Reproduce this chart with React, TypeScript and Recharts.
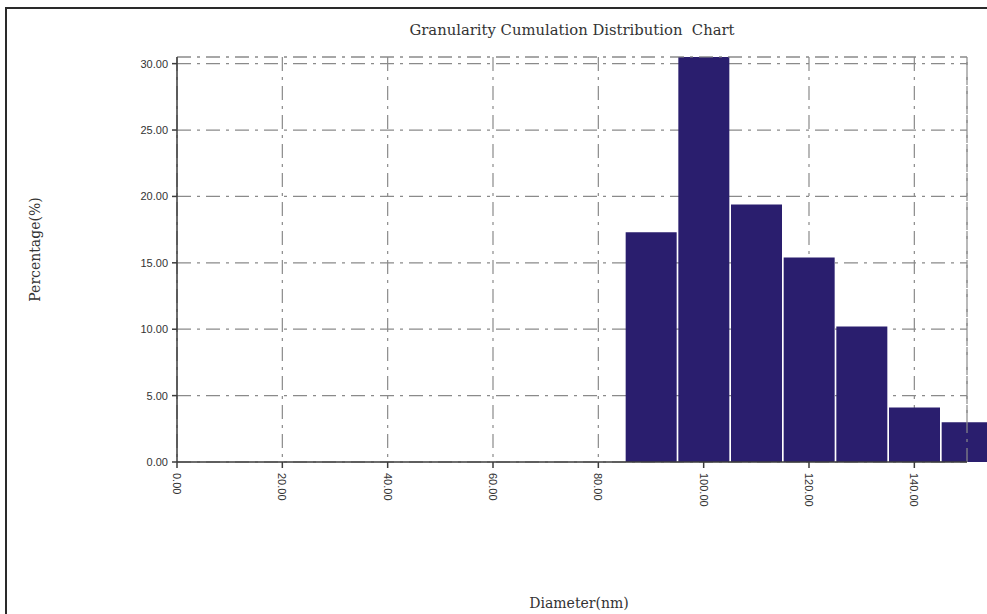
import React from "react";
import {
  BarChart,
  Bar,
  XAxis,
  YAxis,
  CartesianGrid,
  ReferenceLine,
} from "recharts";

// diameter bin centres (nm) and percentage in each bin
const diameters = [90, 100, 110, 120, 130, 140, 150];
const percentages = [17.3, 30.5, 19.4, 15.4, 10.2, 4.1, 3.0];

const xTicks = [0, 20, 40, 60, 80, 100, 120, 140];
const yTicks = [0, 5, 10, 15, 20, 25, 30];

const data = diameters.map((d, i) => ({ diameter: d, percent: percentages[i] }));

const GRID = "#8a8a8a";
const DASH = "14 6 3 6";
const AXIS = "#3c3c3c";
const tickFont = { fontFamily: "Liberation Sans", fontSize: 11, fill: "#333" };

function XTick(props: any) {
  const { x, y, payload } = props;
  return (
    <g transform={`translate(${x},${y})`}>
      <text
        transform="rotate(90)"
        x={5}
        y={0}
        dy="0.35em"
        textAnchor="start"
        {...tickFont}
      >
        {Number(payload.value).toFixed(2)}
      </text>
    </g>
  );
}

function YLabel(props: any) {
  const { viewBox } = props;
  const cx = viewBox.x + 35;
  const cy = viewBox.y + viewBox.height / 2 - 10;
  return (
    <text
      x={cx}
      y={cy}
      transform={`rotate(-90, ${cx}, ${cy})`}
      textAnchor="middle"
      dominantBaseline="central"
      fontFamily="DejaVu Serif"
      fontSize={14}
      fill="#333"
    >
      Percentage(%)
    </text>
  );
}

export default function App() {
  return (
    <div
      style={{
        position: "absolute",
        left: 0,
        top: 0,
        width: 987,
        height: 614,
        overflow: "hidden",
        background: "#fff",
      }}
    >
      {/* outer frame, runs off the right/bottom edge */}
      <div
        style={{
          position: "absolute",
          left: 5,
          top: 7,
          width: 1100,
          height: 700,
          border: "2px solid #2a2a2a",
        }}
      />
      <div
        style={{
          position: "absolute",
          left: 177,
          width: 790,
          top: 21,
          textAlign: "center",
          fontFamily: "DejaVu Serif",
          fontSize: 14.8,
          color: "#333",
          whiteSpace: "pre",
        }}
      >
        Granularity Cumulation Distribution  Chart
      </div>
      <div style={{ position: "absolute", left: 0, top: 0 }}>
        <BarChart
          width={987}
          height={614}
          data={data}
          margin={{ top: 57, right: 20, left: 0, bottom: 0 }}
        >
          <CartesianGrid
            stroke={GRID}
            strokeDasharray={DASH}
            strokeWidth={1.2}
          />
          <ReferenceLine
            y={Math.max(...percentages)}
            stroke={GRID}
            strokeDasharray={DASH}
            strokeWidth={1.2}
          />
          <ReferenceLine
            x={Math.max(...diameters)}
            stroke={GRID}
            strokeDasharray={DASH}
            strokeWidth={1.2}
          />
          <XAxis
            dataKey="diameter"
            type="number"
            domain={[0, "dataMax"]}
            ticks={xTicks}
            height={152}
            tickSize={6}
            tickMargin={0}
            tick={<XTick />}
            stroke={AXIS}
            strokeWidth={1.5}
            label={{
              value: "Diameter(nm)",
              position: "insideBottom",
              offset: 6,
              dx: 7,
              style: { fontFamily: "DejaVu Serif", fontSize: 14, fill: "#333" },
            }}
          />
          <YAxis
            type="number"
            domain={[0, "dataMax"]}
            ticks={yTicks}
            width={177}
            tickSize={5}
            tickMargin={4}
            tickFormatter={(v: number) => v.toFixed(2)}
            tick={tickFont}
            stroke={AXIS}
            strokeWidth={1.5}
            label={<YLabel />}
          />
          <Bar
            dataKey="percent"
            fill="#2a1e6e"
            barSize={51}
            isAnimationActive={false}
          />
        </BarChart>
      </div>
    </div>
  );
}
